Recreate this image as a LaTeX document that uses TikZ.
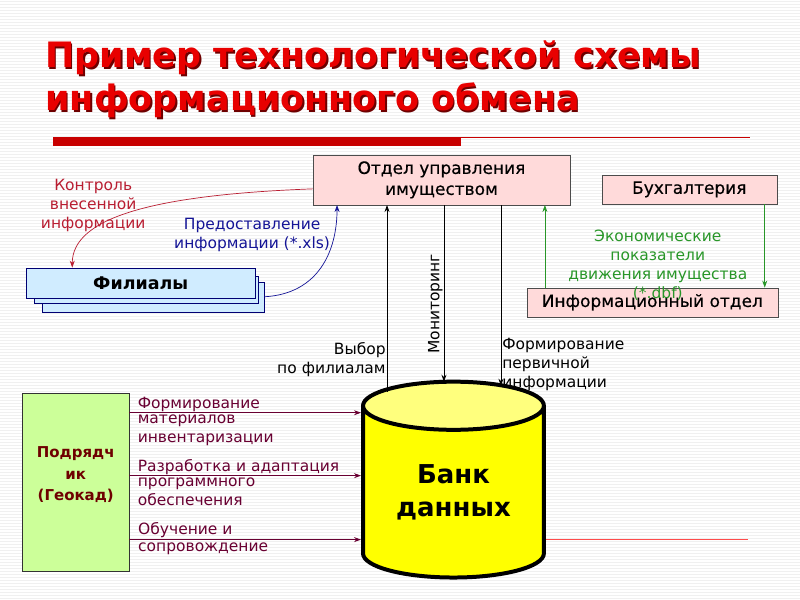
\documentclass[tikz,border=0pt]{standalone}
\usepackage{fontspec}
\setmainfont{DejaVu Sans}
\newfontfamily\boxfont[FakeBold=0.4]{DejaVu Sans}
\usetikzlibrary{shapes.geometric, arrows.meta, positioning, calc}
\definecolor{titlered}{RGB}{232,0,0}
\definecolor{titleshade}{RGB}{110,0,0}
\definecolor{barred}{RGB}{200,0,0}
\definecolor{deptpink}{RGB}{255,218,218}
\definecolor{filblue}{RGB}{208,236,255}
\definecolor{contrgreen}{RGB}{204,255,153}
\definecolor{ctrlred}{RGB}{185,30,50}
\definecolor{xlsblue}{RGB}{20,20,150}
\definecolor{dbfgreen}{RGB}{40,150,40}
\definecolor{feedmaroon}{RGB}{105,0,50}
\definecolor{bankyellow}{RGB}{255,255,0}
\definecolor{banktop}{RGB}{255,255,125}
\tikzset{
  ttl/.style    = {font=\bfseries\fontsize{35}{43}\selectfont, inner sep=0pt, anchor=base west},
  dept/.style   = {rectangle, draw=black!70, fill=deptpink, align=center,
                   font=\boxfont\fontsize{17}{21}\selectfont, inner sep=2pt},
  filbox/.style = {rectangle, draw=blue!45!black, fill=filblue, inner sep=0pt},
  bank/.style   = {cylinder, shape border rotate=90, aspect=0.42, draw=black,
                   line width=4pt, cylinder uses custom fill,
                   cylinder body fill=bankyellow, cylinder end fill=banktop,
                   minimum width=181pt, minimum height=196pt, align=center,
                   font=\bfseries\fontsize{26}{33}\selectfont, inner sep=0pt},
  contr/.style  = {rectangle, draw=black!80, fill=contrgreen, align=center,
                   text=titleshade, text depth=17pt,
                   font=\bfseries\fontsize{15}{21.5}\selectfont},
  fl/.style     = {-{Stealth[length=7pt, width=5pt]}, draw=black, line width=0.8pt},
  lbl/.style    = {font=\fontsize{15.5}{19}\selectfont, inner sep=1pt, align=left},
}
\begin{document}
\begin{tikzpicture}[x=1pt, y=-1pt]
  \fill[white] (0,0) rectangle (800,600);
  \foreach \yy in {1.5,4.5,...,600} \draw[black!6, line width=0.6pt] (0,\yy) -- (800,\yy);
  \useasboundingbox (0,0) rectangle (800,600);

  % title and rule
  \node[ttl, titleshade] (title1s) at (46.5,69.5) {Пример технологической схемы};
  \node[ttl, titleshade] (title2s) at (46.5,112.5) {информационного обмена};
  \node[ttl, titlered] (title1) at (45,68) {Пример технологической схемы};
  \node[ttl, titlered] (title2) at (45,111) {информационного обмена};
  \fill[barred] (53,137) rectangle (461,146);
  \draw[barred, line width=1pt] (461,137.5) -- (750,137.5);

  % boxes
  \node[dept, minimum width=257pt, minimum height=50pt] (dept) at (441.5,180) {Отдел управления\\имуществом};
  \node[dept, minimum width=175pt, minimum height=29pt] (buh) at (689.5,189.5) {Бухгалтерия};
  \node[dept, minimum width=251pt, minimum height=29pt] (info) at (652.5,302.5) {Информационный отдел};

  \node[filbox, minimum width=222pt, minimum height=30pt] (fil3) at (153,297) {};
  \node[filbox, minimum width=224pt, minimum height=27pt] (fil2) at (146,289.5) {};
  \node[filbox, minimum width=230pt, minimum height=30pt,
        font=\bfseries\fontsize{17.5}{20}\selectfont] (fil) at (140.5,283) {Филиалы};

  \node[bank] (bank) at (453.5,493) {Банк\\данных};
  \node[contr, minimum width=107pt, minimum height=179pt] (contr) at (75.5,482.5) {Подрядч\\ик\\(Геокад)};

  % curves between Филиалы and the department
  \draw[fl, ctrlred, line width=0.7pt] ([yshift=-9pt]dept.west) .. controls +(-160,6) and +(0,-50) .. ([xshift=-68.5pt]fil.north);
  \node[lbl, ctrlred, align=center] (ctrl) at (93,206) {Контроль\\внесенной\\информации};
  \draw[fl, xlsblue, line width=0.7pt] (fil3.east) .. controls +(55,-3) and +(0,45) .. ([xshift=-104.5pt]dept.south);
  \node[lbl, xlsblue, align=center] (xls) at (252,235) {Предоставление\\информации (*.xls)};

  % green exchange
  \coordinate (gdn) at ([xshift=75.5pt]buh.south);
  \coordinate (gup) at (545,0);
  \draw[fl, dbfgreen, line width=0.7pt] (gdn) -- (gdn |- info.north);
  \draw[fl, dbfgreen, line width=0.7pt] (info.north -| gup) -- (dept.south -| gup);
  \node[lbl, dbfgreen, align=center] (dbf) at (658,265) {Экономические\\показатели\\движения имущества\\(*.dbf)};

  % links with the data bank
  \coordinate (sel) at (387,392);
  \coordinate (mon) at (444,382);
  \coordinate (prim) at (501,386);
  \draw[fl] (sel) -- (dept.south -| sel) node[lbl, pos=0.17, left, align=right] {Выбор\\по филиалам};
  \draw[fl] (dept.south -| mon) -- (mon) node[lbl, pos=0.56, rotate=90, anchor=south] {Мониторинг};
  \draw[fl] (dept.south -| prim) -- (prim) node[lbl, pos=0.88, right] {Формирование\\первичной\\информации};

  % contractor feeds
  \coordinate (f1) at (0,413);
  \coordinate (f2) at (0,476);
  \coordinate (f3) at (0,540);
  \draw[fl, feedmaroon] (contr.east |- f1) -- (bank.west |- f1)
    node[lbl, feedmaroon, pos=0, anchor=south west, xshift=7pt] {Формирование}
    node[lbl, feedmaroon, pos=0, anchor=north west, xshift=7pt, yshift=-1pt] {материалов\\инвентаризации};
  \draw[fl, feedmaroon] (contr.east |- f2) -- (bank.west |- f2)
    node[lbl, feedmaroon, pos=0, anchor=south west, xshift=7pt] {Разработка и адаптация}
    node[lbl, feedmaroon, pos=0, anchor=north west, xshift=7pt, yshift=-1pt] {программного\\обеспечения};
  \draw[fl, feedmaroon, line width=1.6pt] (contr.east |- f3) -- (bank.west |- f3)
    node[lbl, feedmaroon, pos=0, anchor=south west, xshift=7pt] {Обучение и}
    node[lbl, feedmaroon, pos=0, anchor=north west, xshift=7pt, yshift=-1pt] {сопровождение};

  \coordinate (rr) at (748,540);
  \draw[red!70, line width=0.7pt] (rr -| bank.east) -- (rr);
\end{tikzpicture}
\end{document}
